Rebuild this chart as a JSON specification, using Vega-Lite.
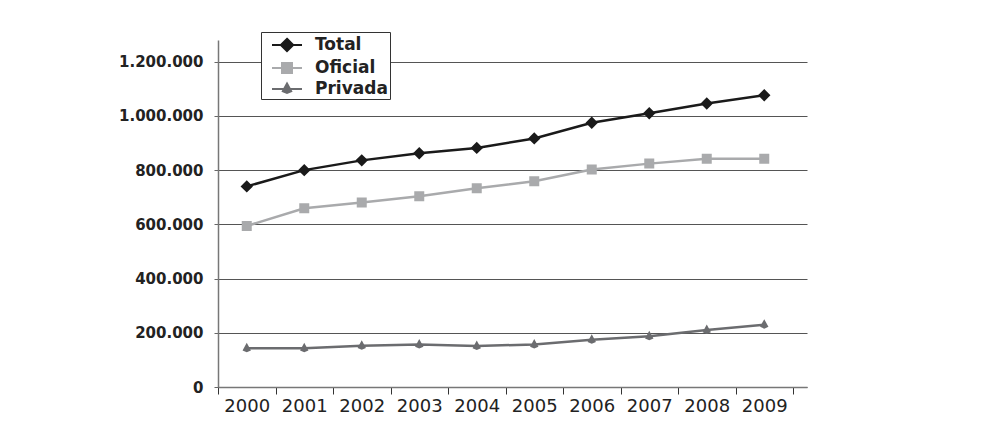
{
  "$schema": "https://vega.github.io/schema/vega-lite/v6.json",
  "autosize": "none",
  "width": 589,
  "height": 347,
  "padding": {"left": 218, "top": 40, "right": 183, "bottom": 41},
  "background": "white",
  "data": {
    "values": [
      {"year": "2000", "serie": "Total", "valor": 740000},
      {"year": "2001", "serie": "Total", "valor": 800000},
      {"year": "2002", "serie": "Total", "valor": 836000},
      {"year": "2003", "serie": "Total", "valor": 862000},
      {"year": "2004", "serie": "Total", "valor": 882000},
      {"year": "2005", "serie": "Total", "valor": 917000},
      {"year": "2006", "serie": "Total", "valor": 975000},
      {"year": "2007", "serie": "Total", "valor": 1010000},
      {"year": "2008", "serie": "Total", "valor": 1046000},
      {"year": "2009", "serie": "Total", "valor": 1076000},
      {"year": "2000", "serie": "Oficial", "valor": 594000},
      {"year": "2001", "serie": "Oficial", "valor": 659000},
      {"year": "2002", "serie": "Oficial", "valor": 681000},
      {"year": "2003", "serie": "Oficial", "valor": 704000},
      {"year": "2004", "serie": "Oficial", "valor": 733000},
      {"year": "2005", "serie": "Oficial", "valor": 759000},
      {"year": "2006", "serie": "Oficial", "valor": 802000},
      {"year": "2007", "serie": "Oficial", "valor": 824000},
      {"year": "2008", "serie": "Oficial", "valor": 842000},
      {"year": "2009", "serie": "Oficial", "valor": 842000},
      {"year": "2000", "serie": "Privada", "valor": 143000},
      {"year": "2001", "serie": "Privada", "valor": 143000},
      {"year": "2002", "serie": "Privada", "valor": 152000},
      {"year": "2003", "serie": "Privada", "valor": 157000},
      {"year": "2004", "serie": "Privada", "valor": 151000},
      {"year": "2005", "serie": "Privada", "valor": 157000},
      {"year": "2006", "serie": "Privada", "valor": 174000},
      {"year": "2007", "serie": "Privada", "valor": 187000},
      {"year": "2008", "serie": "Privada", "valor": 210000},
      {"year": "2009", "serie": "Privada", "valor": 230000}
    ]
  },
  "encoding": {
    "x": {
      "field": "year",
      "type": "ordinal",
      "scale": {"paddingInner": 0, "paddingOuter": 0.1217, "align": 0},
      "axis": {
        "title": null,
        "labelAngle": 0,
        "tickBand": "extent",
        "labelFont": "DejaVu Sans",
        "labelFontSize": 18,
        "labelColor": "#222222",
        "labelPadding": 3,
        "tickSize": 7,
        "tickColor": "#333333",
        "domainColor": "#777777",
        "domainWidth": 1.5,
        "grid": false
      }
    },
    "y": {
      "field": "valor",
      "type": "quantitative",
      "scale": {"domain": [0, 1280000], "nice": false},
      "axis": {
        "title": null,
        "values": [0, 200000, 400000, 600000, 800000, 1000000, 1200000],
        "format": ",d",
        "labelFont": "DejaVu Sans",
        "labelFontWeight": "bold",
        "labelFontSize": 15,
        "labelColor": "#222222",
        "labelPadding": 11,
        "tickSize": 4,
        "tickColor": "#666666",
        "domainColor": "#777777",
        "domainWidth": 1.5,
        "grid": true,
        "gridColor": "#555555",
        "gridWidth": 1
      }
    },
    "color": {
      "field": "serie",
      "type": "nominal",
      "sort": ["Total", "Oficial", "Privada"],
      "scale": {"domain": ["Total", "Oficial", "Privada"], "range": ["#1a1a1a", "#a9aaac", "#6b6c6f"]},
      "legend": {
        "title": null,
        "orient": "none",
        "legendX": 43,
        "legendY": -8,
        "direction": "vertical",
        "fillColor": "white",
        "strokeColor": "#333333",
        "padding": 2,
        "rowPadding": 1,
        "symbolSize": 400,
        "symbolOffset": 13,
        "symbolStrokeWidth": 2,
        "labelFont": "DejaVu Sans",
        "labelFontWeight": "bold",
        "labelFontSize": 17,
        "labelColor": "#222222",
        "labelOffset": 17
      }
    }
  },
  "layer": [
    {
      "mark": {"type": "line", "strokeWidth": 2.5}
    },
    {
      "mark": {"type": "point", "filled": true, "opacity": 1, "size": 400},
      "encoding": {
        "shape": {
          "field": "serie",
          "type": "nominal",
          "scale": {
            "domain": ["Total", "Oficial", "Privada"],
            "range": [
              "M-1.5,0H1.5M0,-0.62L0.62,0L0,0.62L-0.62,0Z",
              "M-1.5,0H1.5M-0.5,-0.5H0.5V0.5H-0.5Z",
              "M-1.5,0H1.5M0,-0.55L0.42,0.22L0,0.4L-0.42,0.22Z"
            ]
          },
          "legend": null
        }
      }
    }
  ],
  "config": {
    "locale": {
      "number": {"decimal": ",", "thousands": ".", "grouping": [3], "currency": ["", ""]}
    },
    "view": {"stroke": null}
  }
}
